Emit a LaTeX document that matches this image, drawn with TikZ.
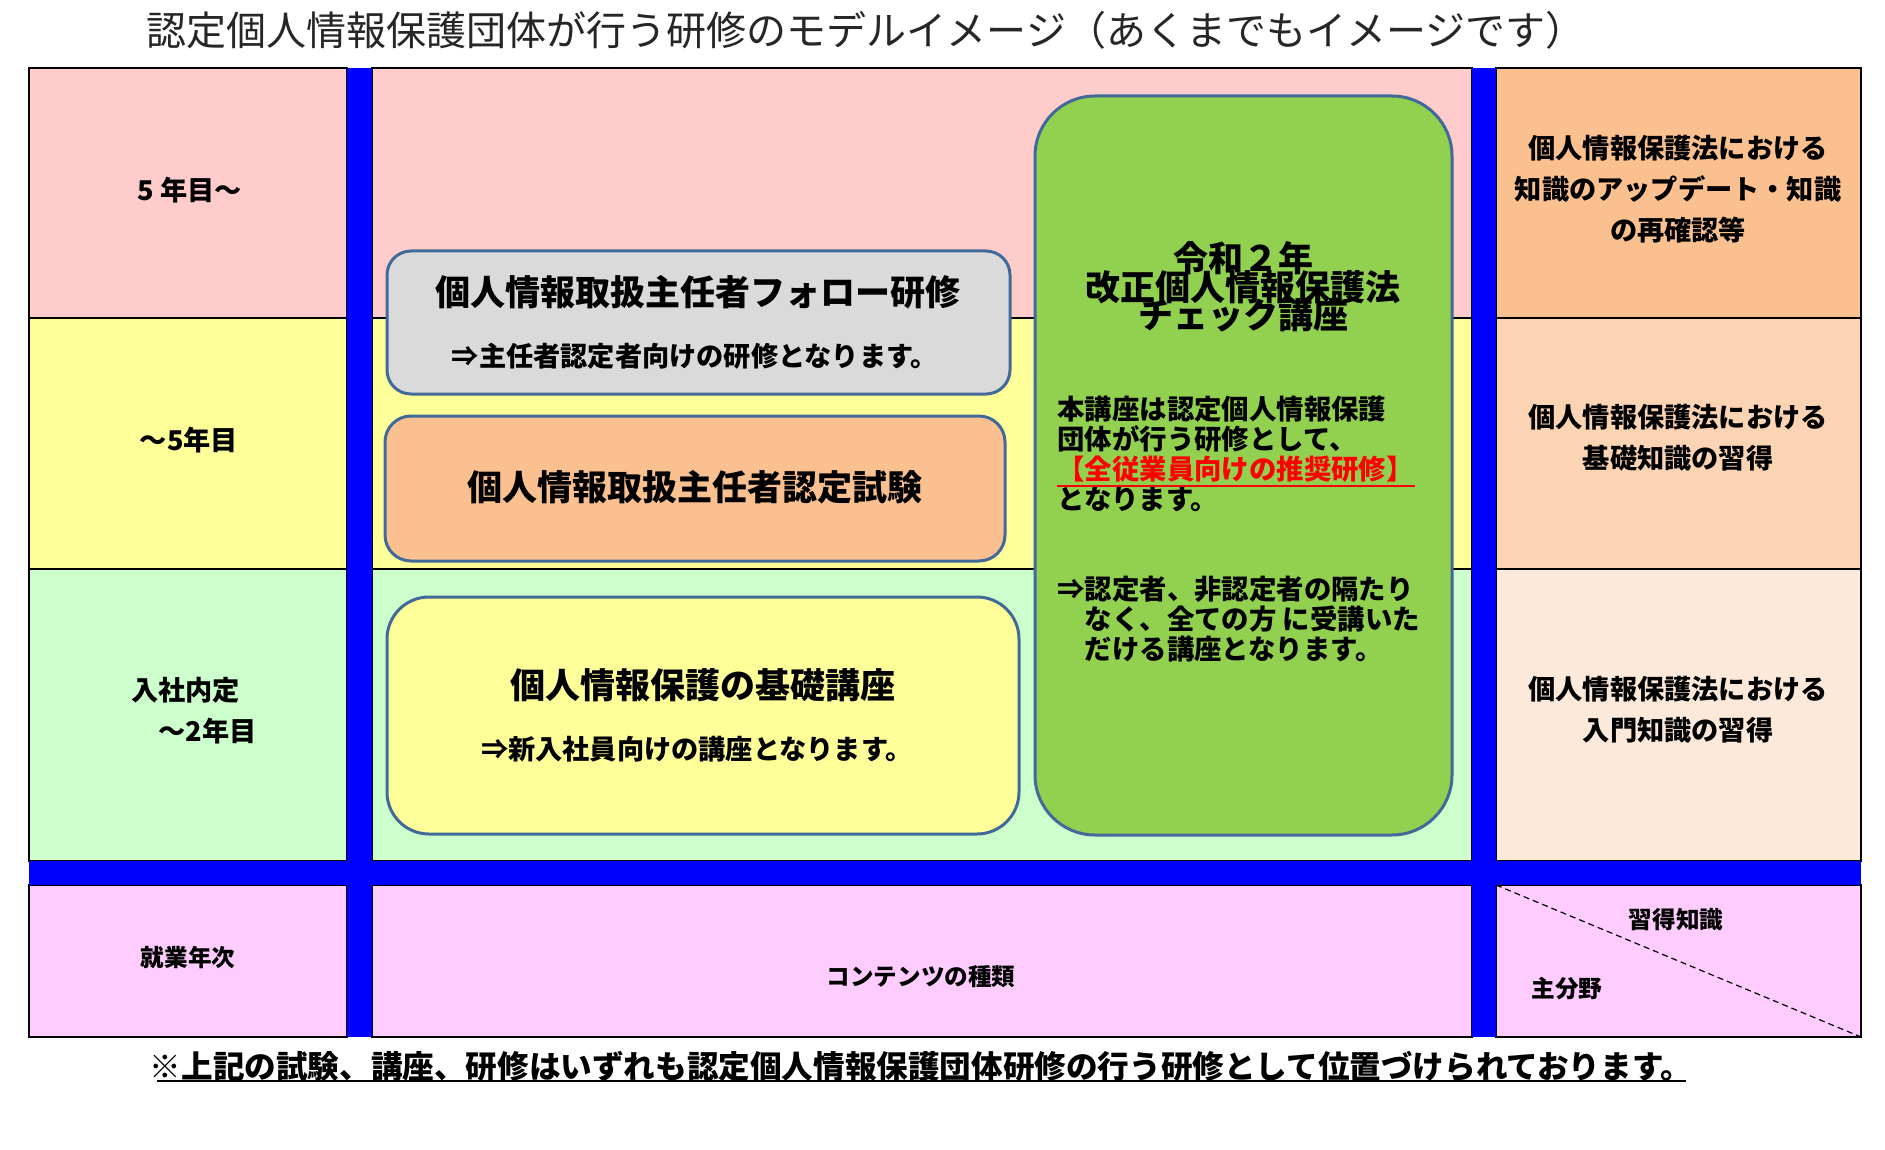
\documentclass[tikz,border=0pt]{standalone}
\usepackage{fontspec}
\setmainfont{Noto Sans CJK JP}
\usepackage{xcolor}
\definecolor{rowA}{HTML}{FFCCCC}
\definecolor{rowB}{HTML}{FFFF99}
\definecolor{rowC}{HTML}{CCFFCC}
\definecolor{rowD}{HTML}{FFCCFF}
\definecolor{knowA}{HTML}{FAC090}
\definecolor{knowB}{HTML}{FBD4B4}
\definecolor{knowC}{HTML}{FDE9D9}
\definecolor{barblue}{HTML}{0000FF}
\definecolor{courseline}{HTML}{41699A}
\definecolor{grayfill}{HTML}{DADADA}
\definecolor{greenfill}{HTML}{92D050}
\newcommand\tightlines{\setlength{\lineskiplimit}{-30pt}}

\begin{document}
\begin{tikzpicture}[x=0.5pt,y=-0.5pt,
  cell/.style={draw=black,line width=1pt},
  course/.style={draw=courseline,line width=1.5pt,inner sep=0pt},
  big/.style={font=\fontsize{17.5}{14.2}\selectfont\bfseries\tightlines,align=center,inner sep=0pt},
  mid/.style={font=\fontsize{13.6}{20.5}\selectfont\bfseries,align=center,inner sep=0pt},
  small/.style={font=\fontsize{11.8}{15}\selectfont\bfseries,inner sep=0pt}]
  \fill[white] (0,0) rectangle (1885,1150);
  \useasboundingbox (0,0) rectangle (1885,1150);
  \node[inner sep=0pt,font=\fontsize{20}{22}\selectfont,text=black!85] (title) at (866,30)
    {認定個人情報保護団体が行う研修のモデルイメージ（あくまでもイメージです）};
  \foreach \ya/\yb/\cl/\cr in {68/318/rowA/knowA,318/569/rowB/knowB,569/861/rowC/knowC,885/1037/rowD/rowD} {
    \draw[cell,fill=\cl] (29,\ya) rectangle (347,\yb);
    \draw[cell,fill=\cl] (372,\ya) rectangle (1472,\yb);
    \draw[cell,fill=\cr] (1496,\ya) rectangle (1861,\yb);
  }
  \fill[barblue] (347,68) rectangle (372,1037);
  \fill[barblue] (1472,68) rectangle (1496,1037);
  \fill[barblue] (29,861) rectangle (1861,885);
  \draw[line width=0.6pt,densely dashed] (1496,885) -- (1861,1037);

  \node[mid] (yearA) at (190,190) {5 年目～};
  \node[mid] (yearB) at (189,440) {～5年目};
  \node[mid,align=left] (yearC) at (194,711) {入社内定\\\hspace*{1em}～2年目};
  \node[small] (years) at (188,958) {就業年次};
  \node[small] (kinds) at (921,977) {コンテンツの種類};
  \node[small] (know) at (1676,920) {習得知識};
  \node[small] (field) at (1567,989) {主分野};

  \node[mid] (knowtxtA) at (1678,189) {個人情報保護法における\\知識のアップデート・知識\\の再確認等};
  \node[mid] (knowtxtB) at (1678,438) {個人情報保護法における\\基礎知識の習得};
  \node[mid] (knowtxtC) at (1678,710) {個人情報保護法における\\入門知識の習得};

  \node[course,fill=grayfill,rounded corners=12pt,minimum width=311.5pt,minimum height=71.5pt] (follow) at (698.5,322.5) {};
  \node[big] (followT) at (698,292) {個人情報取扱主任者フォロー研修};
  \node[mid] (followS) at (695,356) {⇒主任者認定者向けの研修となります。};
  \node[course,fill=knowA,rounded corners=13pt,minimum width=310pt,minimum height=72.5pt] (exam) at (695,488.5) {};
  \node[big] (examT) at (695,487) {個人情報取扱主任者認定試験};
  \node[course,fill=rowB,rounded corners=21pt,minimum width=316pt,minimum height=118.5pt] (basic) at (703,715.5) {};
  \node[big] (basicT) at (703,685) {個人情報保護の基礎講座};
  \node[mid] (basicS) at (697,749) {⇒新入社員向けの講座となります。};
  \node[course,fill=greenfill,rounded corners=30pt,minimum width=208.5pt,minimum height=369.5pt] (check) at (1243.5,465.5) {};
  \node[big] (checkT) at (1243,287) {令和２年\\改正個人情報保護法\\チェック講座};
  \node[inner sep=0pt,anchor=north west,align=left,font=\fontsize{13.7}{15}\selectfont\bfseries] (checkS) at (1057,396)
    {本講座は認定個人情報保護\\団体が行う研修として、\\{\color{red}【全従業員向けの推奨研修】}\\となります。\\[30pt]
     ⇒認定者、非認定者の隔たり\\\hspace*{1em}なく、全ての方 に受講いた\\\hspace*{1em}だける講座となります。};
  \draw[red,line width=1pt] (1057,486) -- (1415,486);

  \node[inner sep=0pt,font=\fontsize{15.8}{18}\selectfont\bfseries] (note) at (921,1066)
    {※上記の試験、講座、研修はいずれも認定個人情報保護団体研修の行う研修として位置づけられております。};
  \draw[line width=1pt] (157,1081) -- (1686,1081);
\end{tikzpicture}
\end{document}
